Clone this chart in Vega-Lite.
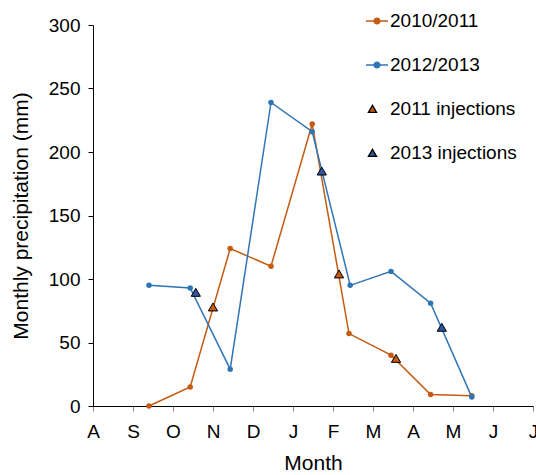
{
  "$schema": "https://vega.github.io/schema/vega-lite/v6.json",
  "width": 440,
  "height": 381,
  "autosize": {"type": "none"},
  "padding": {"left": 93, "top": 25, "right": 3, "bottom": 69},
  "background": "white",
  "config": {
    "view": {"stroke": null},
    "font": "Liberation Sans",
    "axis": {"grid": false, "domainColor": "black", "labelColor": "black", "titleColor": "black", "labelFont": "Liberation Sans", "titleFont": "Liberation Sans", "labelFontSize": 19, "titleFontSize": 21, "titleFontWeight": "normal"},
    "legend": {"orient": "none", "legendX": 272, "legendY": -16, "title": null, "labelFontSize": 19, "labelFont": "Liberation Sans", "labelColor": "black", "symbolSize": 484, "symbolStrokeWidth": 1.3, "rowPadding": 22, "labelOffset": 1, "padding": 0, "symbolOpacity": 1}
  },
  "datasets": {
    "series": [
      {"series": "2010/2011", "m": 1.4, "p": 0},
      {"series": "2010/2011", "m": 2.43, "p": 15},
      {"series": "2010/2011", "m": 3.43, "p": 124},
      {"series": "2010/2011", "m": 4.45, "p": 110},
      {"series": "2010/2011", "m": 5.48, "p": 222},
      {"series": "2010/2011", "m": 6.4, "p": 57},
      {"series": "2010/2011", "m": 7.45, "p": 40},
      {"series": "2010/2011", "m": 8.44, "p": 9},
      {"series": "2010/2011", "m": 9.47, "p": 8},
      {"series": "2012/2013", "m": 1.4, "p": 95},
      {"series": "2012/2013", "m": 2.43, "p": 93},
      {"series": "2012/2013", "m": 3.43, "p": 29},
      {"series": "2012/2013", "m": 4.45, "p": 239},
      {"series": "2012/2013", "m": 5.48, "p": 216},
      {"series": "2012/2013", "m": 6.43, "p": 95},
      {"series": "2012/2013", "m": 7.45, "p": 106},
      {"series": "2012/2013", "m": 8.44, "p": 81},
      {"series": "2012/2013", "m": 9.47, "p": 7}
    ],
    "injections": [
      {"series": "2011 injections", "m": 3.0, "p": 78},
      {"series": "2011 injections", "m": 6.15, "p": 104},
      {"series": "2011 injections", "m": 7.575, "p": 37.5},
      {"series": "2013 injections", "m": 2.57, "p": 89.5},
      {"series": "2013 injections", "m": 5.72, "p": 185},
      {"series": "2013 injections", "m": 8.72, "p": 62}
    ],
    "legend": [
      {"series": "2010/2011"},
      {"series": "2012/2013"},
      {"series": "2011 injections"},
      {"series": "2013 injections"}
    ]
  },
  "encoding": {
    "x": {"field": "m", "type": "quantitative", "scale": {"domain": [0, 11], "nice": false, "zero": false},
      "axis": {"title": "Month", "values": [0,1,2,3,4,5,6,7,8,9,10,11], "labelExpr": "substring('ASONDJFMAMJJ', datum.value, datum.value + 1)", "tickColor": "#888888", "tickSize": 5, "labelPadding": 11, "titlePadding": 11, "labelFlush": false, "labelOverlap": false}},
    "y": {"field": "p", "type": "quantitative", "scale": {"domain": [0, 300], "nice": false},
      "axis": {"title": "Monthly precipitation (mm)", "values": [0,50,100,150,200,250,300], "tickColor": "black", "tickSize": 5, "labelPadding": 8, "titlePadding": 17}}
  },
  "layer": [
    {
      "data": {"name": "series"},
      "transform": [{"filter": "datum.series == '2010/2011'"}],
      "mark": {"type": "line", "strokeWidth": 1.5},
      "encoding": {
        "stroke": {"field": "series", "type": "nominal", "scale": {"domain": ["2010/2011", "2012/2013", "2011 injections", "2013 injections"], "range": ["#c55a11", "#2e75b6", "black", "black"]}}
      }
    },
    {
      "data": {"name": "series"},
      "transform": [{"filter": "datum.series == '2010/2011'"}],
      "mark": {"type": "point", "shape": "circle", "filled": true, "size": 30, "opacity": 1},
      "encoding": {
        "fill": {"field": "series", "type": "nominal", "scale": {"domain": ["2010/2011", "2012/2013", "2011 injections", "2013 injections"], "range": ["#c55a11", "#2e75b6", "#c55a11", "#2f55a0"]}}
      }
    },
    {
      "data": {"name": "series"},
      "transform": [{"filter": "datum.series == '2012/2013'"}],
      "mark": {"type": "line", "strokeWidth": 1.5},
      "encoding": {
        "stroke": {"field": "series", "type": "nominal"}
      }
    },
    {
      "data": {"name": "series"},
      "transform": [{"filter": "datum.series == '2012/2013'"}],
      "mark": {"type": "point", "shape": "circle", "filled": true, "size": 30, "opacity": 1},
      "encoding": {
        "fill": {"field": "series", "type": "nominal"}
      }
    },
    {
      "data": {"name": "injections"},
      "mark": {"type": "point", "shape": "triangle-up", "filled": true, "size": 85, "stroke": "black", "strokeWidth": 1, "opacity": 1},
      "encoding": {
        "fill": {"field": "series", "type": "nominal"}
      }
    },
    {
      "data": {"name": "legend"},
      "mark": {"type": "point", "filled": true, "opacity": 0},
      "encoding": {
        "x": {"datum": 5},
        "y": {"datum": 150},
        "fill": {"field": "series", "type": "nominal"},
        "stroke": {"field": "series", "type": "nominal"},
        "shape": {"field": "series", "type": "nominal", "scale": {"domain": ["2010/2011", "2012/2013", "2011 injections", "2013 injections"], "range": ["M-1,0L1,0M-0.27,0A0.27,0.27 0 1,1 0.27,0A0.27,0.27 0 1,1 -0.27,0Z", "M-1,0L1,0M-0.27,0A0.27,0.27 0 1,1 0.27,0A0.27,0.27 0 1,1 -0.27,0Z", "M-0.41,-0.33L-0.04,0.3L-0.78,0.3Z", "M-0.41,-0.33L-0.04,0.3L-0.78,0.3Z"]}}
      }
    }
  ]
}
